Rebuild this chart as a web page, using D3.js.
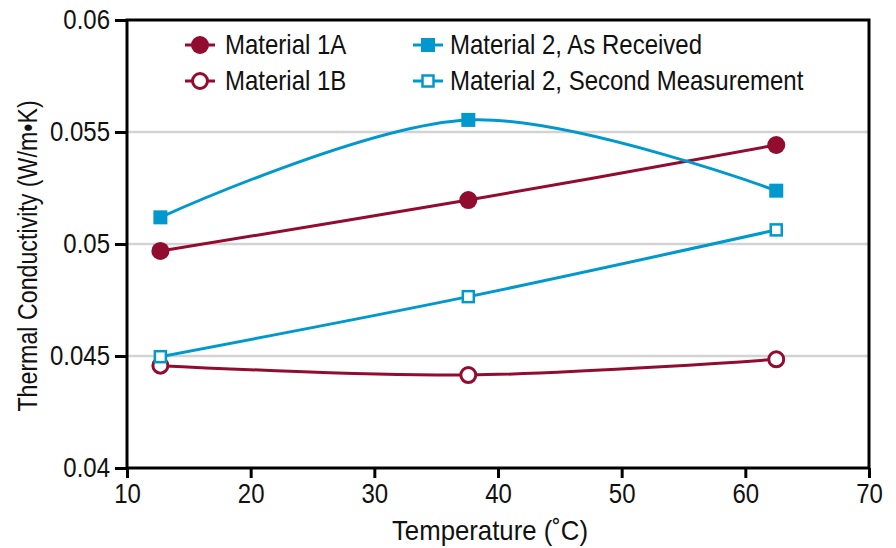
<!DOCTYPE html>
<html>
<head>
<meta charset="utf-8">
<script src="https://cdn.jsdelivr.net/npm/d3@7"></script>
<style>
body{margin:0;background:#fff;}
svg text{font-family:"Liberation Sans",Arial,sans-serif;fill:#111;}
</style>
</head>
<body>
<svg width="896" height="548"></svg>
<script>
// data
const temps=[12.7, 37.6, 62.5];
const mat1A=[0.04969, 0.05196, 0.05442];
const mat1B=[0.04457, 0.04415, 0.04485];
const mat2Recv=[0.05119, 0.05554, 0.05238];
const mat2Second=[0.04497, 0.04765, 0.05063];
const xTicks=[10, 20, 30, 40, 50, 60, 70];
const yTicks=[0.04, 0.045, 0.05, 0.055, 0.06];

const red="#910c2f", blue="#0098cd";
const series=[
  {name:"Material 1A", vals:mat1A, color:red, shape:"circle", filled:true},
  {name:"Material 1B", vals:mat1B, color:red, shape:"circle", filled:false},
  {name:"Material 2, As Received", vals:mat2Recv, color:blue, shape:"square", filled:true},
  {name:"Material 2, Second Measurement", vals:mat2Second, color:blue, shape:"square", filled:false}
];

// the original type is a condensed face: bigger size squeezed sideways
const fs=27, sx=24/27;

const svg=d3.select("svg");
const width=+svg.attr("width"), height=+svg.attr("height");
const m={top:20, right:27, bottom:80, left:127};
const w=width-m.left-m.right, h=height-m.top-m.bottom;
const g=svg.append("g").attr("transform","translate("+m.left+","+m.top+")");

const x=d3.scaleLinear().domain([10,70]).range([0,w]);
const y=d3.scaleLinear().domain([0.04,0.06]).range([h,0]);

// gridlines
g.append("g").selectAll("line")
  .data(yTicks.slice(1,-1)).enter().append("line")
  .attr("x1",0).attr("x2",w)
  .attr("y1",d=>y(d)).attr("y2",d=>y(d))
  .attr("stroke","#d3d3d3").attr("stroke-width",2.5);

// frame
g.append("rect").attr("width",w).attr("height",h)
  .attr("fill","none").attr("stroke","#000").attr("stroke-width",3);

// axes
const xAxis=g.append("g").attr("transform","translate(0,"+h+")")
  .call(d3.axisBottom(x).tickValues(xTicks).tickSize(10).tickPadding(6).tickFormat(d3.format("d")));
const yAxis=g.append("g")
  .call(d3.axisLeft(y).tickValues(yTicks).tickSize(12).tickPadding(5).tickFormat(d=>String(+d.toFixed(3))));
[xAxis,yAxis].forEach(a=>{
  a.select(".domain").remove();
  a.selectAll("line").attr("stroke","#000").attr("stroke-width",3);
  a.selectAll("text").attr("font-size",fs).attr("fill","#111")
   .style("font-family","'Liberation Sans',Arial,sans-serif")
   .each(function(){
     const t=d3.select(this), xx=+t.attr("x")||0;
     t.attr("x",xx/sx).attr("transform","scale("+sx+",1)");
   });
});

// lines
const line=d3.line().x((d,i)=>x(temps[i])).y(d=>y(d)).curve(d3.curveCardinal);
series.forEach(s=>{
  g.append("path").datum(s.vals)
    .attr("d",line).attr("fill","none")
    .attr("stroke",s.color).attr("stroke-width",3);
});

function drawMarker(sel,s){
  if(s.shape==="circle"){
    if(s.filled) sel.append("circle").attr("r",9).attr("fill",s.color);
    else sel.append("circle").attr("r",7.5).attr("fill","#fff").attr("stroke",s.color).attr("stroke-width",3);
  }else{
    if(s.filled) sel.append("rect").attr("x",-7).attr("y",-7).attr("width",14).attr("height",14).attr("fill",s.color);
    else sel.append("rect").attr("x",-5.5).attr("y",-5.5).attr("width",11).attr("height",11).attr("fill","#fff").attr("stroke",s.color).attr("stroke-width",2.5);
  }
}

series.forEach(s=>{
  g.append("g").selectAll("g").data(s.vals).enter().append("g")
    .attr("transform",(d,i)=>"translate("+x(temps[i])+","+y(d)+")")
    .each(function(){drawMarker(d3.select(this),s);});
});

// legend
const legPos=[[200,45],[200,81],[428,45],[428,81]];
series.forEach((s,i)=>{
  const lg=svg.append("g").attr("transform","translate("+legPos[i][0]+","+legPos[i][1]+")");
  lg.append("line").attr("x1",-15).attr("x2",15).attr("stroke",s.color).attr("stroke-width",3);
  drawMarker(lg,s);
  lg.append("text").attr("transform","translate("+(i<2?25:22)+",0) scale("+sx+",1)")
    .attr("dy","0.35em").attr("font-size",fs).text(s.name);
});

// axis titles
svg.append("text").attr("transform","translate(490,540) scale(0.92,1)")
  .attr("text-anchor","middle").attr("font-size",28).text("Temperature (˚C)");
svg.append("text").attr("transform","translate(37,"+(m.top+h/2+12)+") rotate(-90) scale(0.86,1)")
  .attr("text-anchor","middle").attr("font-size",27).text("Thermal Conductivity (W/m•K)");
</script>
</body>
</html>
